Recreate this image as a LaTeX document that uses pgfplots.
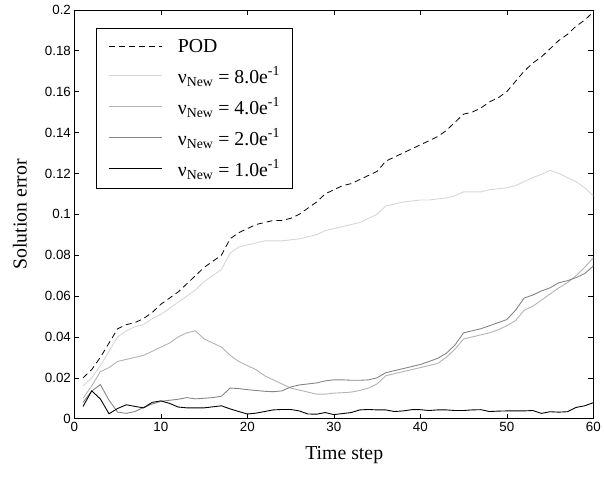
\documentclass[border=0pt]{standalone}
\usepackage{fontspec}
\setmainfont{Liberation Serif}
\newfontfamily\arialf{Liberation Sans}
\usepackage{pgfplots}
\pgfplotsset{compat=1.18}
\usepackage{pgfplotstable}
\definecolor{gA}{gray}{0.84}
\definecolor{gB}{gray}{0.70}
\definecolor{gC}{gray}{0.52}
\pgfplotstableread{
t pod a b c d
1 0.020 0.016 0.010 0.008 0.006
2 0.024 0.020 0.016 0.0135 0.0136
3 0.030 0.026 0.023 0.0167 0.0097
4 0.037 0.033 0.025 0.009 0.0024
5 0.044 0.040 0.028 0.0032 0.0050
6 0.046 0.043 0.029 0.0026 0.0068
7 0.047 0.045 0.030 0.0035 0.0060
8 0.049 0.046 0.031 0.0055 0.0053
9 0.052 0.049 0.033 0.0072 0.0080
10 0.056 0.051 0.035 0.0085 0.0087
11 0.059 0.054 0.037 0.0090 0.0075
12 0.062 0.057 0.040 0.0095 0.0057
13 0.066 0.060 0.042 0.0103 0.0053
14 0.070 0.063 0.043 0.0097 0.0053
15 0.074 0.067 0.039 0.0100 0.0053
16 0.077 0.070 0.037 0.0103 0.0058
17 0.080 0.073 0.035 0.0110 0.0063
18 0.088 0.081 0.031 0.0150 0.0048
19 0.091 0.084 0.028 0.0147 0.0035
20 0.093 0.085 0.026 0.0142 0.0023
21 0.095 0.086 0.024 0.0138 0.0027
22 0.096 0.087 0.021 0.0134 0.0035
23 0.097 0.087 0.019 0.0132 0.0043
24 0.097 0.087 0.017 0.0136 0.0045
25 0.098 0.0875 0.015 0.0155 0.0045
26 0.100 0.088 0.014 0.0165 0.0038
27 0.103 0.089 0.013 0.0170 0.0023
28 0.106 0.090 0.012 0.0175 0.0022
29 0.110 0.092 0.012 0.0185 0.0030
30 0.112 0.093 0.0125 0.0190 0.0020
31 0.114 0.094 0.0127 0.0190 0.0025
32 0.115 0.095 0.013 0.0188 0.0030
33 0.117 0.096 0.0138 0.0188 0.0043
34 0.119 0.098 0.015 0.0190 0.0045
35 0.121 0.100 0.017 0.0200 0.0043
36 0.126 0.104 0.021 0.0225 0.0043
37 0.128 0.105 0.022 0.0235 0.0035
38 0.130 0.106 0.023 0.0245 0.0038
39 0.132 0.1065 0.024 0.0255 0.0044
40 0.134 0.107 0.025 0.0265 0.0044
41 0.136 0.107 0.026 0.0280 0.0040
42 0.138 0.1075 0.027 0.0295 0.0043
43 0.141 0.108 0.030 0.0320 0.0043
44 0.145 0.109 0.034 0.0360 0.0040
45 0.149 0.111 0.039 0.0420 0.0040
46 0.150 0.111 0.040 0.0430 0.0043
47 0.152 0.111 0.041 0.0440 0.0044
48 0.155 0.112 0.042 0.0455 0.0035
49 0.157 0.1125 0.0435 0.0470 0.0037
50 0.160 0.113 0.0455 0.0485 0.0038
51 0.165 0.114 0.048 0.0530 0.0038
52 0.170 0.116 0.053 0.0590 0.0038
53 0.174 0.118 0.055 0.0605 0.0040
54 0.177 0.1195 0.058 0.0625 0.0026
55 0.181 0.1215 0.061 0.0640 0.0034
56 0.185 0.120 0.064 0.0665 0.0032
57 0.188 0.118 0.0665 0.0675 0.0034
58 0.192 0.116 0.070 0.0690 0.0055
59 0.195 0.113 0.074 0.0710 0.0063
60 0.199 0.109 0.0787 0.0747 0.0078
}\datatable
\begin{document}
\begin{tikzpicture}
\begin{axis}[name=ax,
  scale only axis, width=523bp, height=412bp,
  xmin=0, xmax=60, ymin=0, ymax=0.2,
  xtick={0,10,20,30,40,50,60},
  ytick={0,0.02,0.04,0.06,0.08,0.1,0.12,0.14,0.16,0.18,0.2},
  yticklabels={0,0.02,0.04,0.06,0.08,0.1,0.12,0.14,0.16,0.18,0.2},
  scaled y ticks=false,
  tick align=inside, major tick length=5bp,
  tick style={black, line width=0.6bp},
  axis line style={black, line width=0.8bp},
  /pgf/number format/assume math mode=true,
  ticklabel style={font=\arialf\fontsize{13.5}{16}\selectfont},
  xlabel={Time step}, ylabel={Solution error},
  label style={font=\fontsize{20}{24}\selectfont},
  xlabel style={at={(axis description cs:0.52,-0.09)}, anchor=center},
  ylabel style={at={(axis description cs:-0.105,0.5)}, anchor=center},
  legend cell align=left,
  legend style={at={(0.042,0.956)}, anchor=north west, draw=black, line width=0.8bp,
    font=\fontsize{20}{23}\selectfont, inner xsep=12bp, inner ysep=9bp,
    row sep=9bp, nodes={inner xsep=1bp},
    /tikz/every odd column/.append style={column sep=15bp}},
  legend image code/.code={\draw[#1] (0bp,0bp) -- (53bp,0bp);},
]
\addplot[black, line width=0.8bp, dash pattern=on 6bp off 4bp] table[x=t,y=pod]{\datatable};
\addlegendentry{POD}
\addplot[gA, line width=0.9bp] table[x=t,y=a]{\datatable};
\addlegendentry{ν\textsubscript{New} = 8.0e\textsuperscript{-1}}
\addplot[gB, line width=0.9bp] table[x=t,y=b]{\datatable};
\addlegendentry{ν\textsubscript{New} = 4.0e\textsuperscript{-1}}
\addplot[gC, line width=0.9bp] table[x=t,y=c]{\datatable};
\addlegendentry{ν\textsubscript{New} = 2.0e\textsuperscript{-1}}
\addplot[black, line width=0.9bp] table[x=t,y=d]{\datatable};
\addlegendentry{ν\textsubscript{New} = 1.0e\textsuperscript{-1}}
\end{axis}
\path ([shift={(-75bp,-66bp)}]ax.south west) rectangle ([shift={(6bp,10bp)}]ax.north east);
\end{tikzpicture}
\end{document}
